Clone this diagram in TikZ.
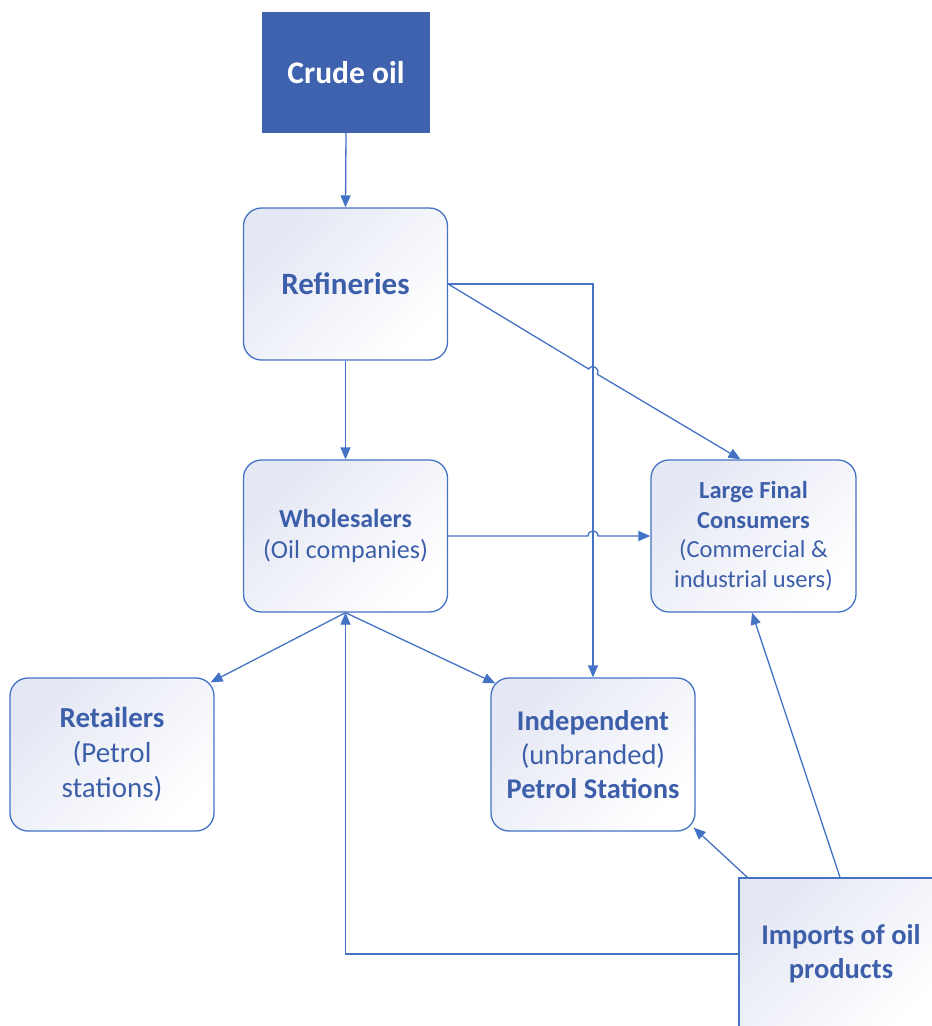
\documentclass[tikz,border=0pt]{standalone}
\usepackage{fontspec}
\setmainfont{Carlito}
\usetikzlibrary{arrows.meta}
\definecolor{linec}{HTML}{4472C4}
\definecolor{txtc}{HTML}{3D5FAA}
\definecolor{crudec}{HTML}{3E62AD}
\definecolor{lav}{HTML}{E4E7F4}
\newcommand{\fs}[1]{\fontsize{#1}{1.2\dimexpr#1pt\relax}\selectfont}
\begin{document}
\begin{tikzpicture}[x=1pt,y=-1pt,
  box/.style={draw=linec, line width=1.3pt, rounded corners=18pt,
    top color=lav, bottom color=white, shading angle=45,
    minimum width=204pt, minimum height=152pt, align=center,
    text=txtc, inner sep=2pt},
  arr/.style={draw=linec, line width=1.3pt, -{Triangle[length=12pt,width=10pt]}}]
\useasboundingbox (0,0) rectangle (932,1026);
\clip (0,0) rectangle (932,1026);

\node[fill=crudec, minimum width=168pt, minimum height=121pt, text=white,
  font=\fs{31.5}\bfseries, inner sep=0pt] (crude) at (346,72.5) {Crude oil};
\node[box, font=\fs{31}\bfseries] (ref) at (345.5,284) {Refineries};
\node[box, font=\fs{26}] (whol) at (345.5,536) {\textbf{Wholesalers}\\(Oil companies)};
\node[box, font=\fs{24.5}, minimum width=205pt] (lfc) at (753.5,536)
  {\textbf{Large Final}\\\textbf{Consumers}\\(Commercial \&\\industrial users)};
\node[box, font=\fs{29}, minimum height=153pt] (ret) at (112,754.5)
  {\textbf{Retailers}\\(Petrol\\stations)};
\node[box, font=\fs{28.5}, minimum height=153pt] (ind) at (593,754.5)
  {\textbf{Independent}\\(unbranded)\\\textbf{Petrol Stations}};
\node[box, rounded corners=0pt, font=\fs{28.5}\bfseries] (imp) at (841,954)
  {Imports of oil\\products};

% hop coordinates
\coordinate (h1a) at (588.7,369.0);
\coordinate (h1c1) at (592.0,363.4);
\coordinate (h1c2) at (600.6,368.6);
\coordinate (h1b) at (597.3,374.2);
\coordinate (h2a) at (588,536);
\coordinate (h2c1) at (588,529.3);
\coordinate (h2c2) at (598,529.3);
\coordinate (h2b) at (598,536);

\draw[arr] (crude.south) -- (ref.north);
\draw[arr] (ref.south) -- (whol.north);
\draw[arr] (ref.east) -| (ind.north);
\draw[arr] (ref.east) -- (h1a) .. controls (h1c1) and (h1c2) .. (h1b) -- ([xshift=-13pt]lfc.north);
\draw[arr] (whol.east) -- (h2a) .. controls (h2c1) and (h2c2) .. (h2b) -- (lfc.west);
\draw[arr] (whol.south) -- ([xshift=-4pt,yshift=-5pt]ret.north east);
\draw[arr] (whol.south) -- ([xshift=5pt,yshift=-6pt]ind.north west);
\draw[arr] (imp.west) -| (whol.south);
\draw[arr] ([xshift=9pt]imp.north west) -- ([xshift=-2pt,yshift=4pt]ind.south east);
\draw[arr] ([xshift=-1pt]imp.north) -- ([xshift=-1.5pt]lfc.south);
\end{tikzpicture}
\end{document}
